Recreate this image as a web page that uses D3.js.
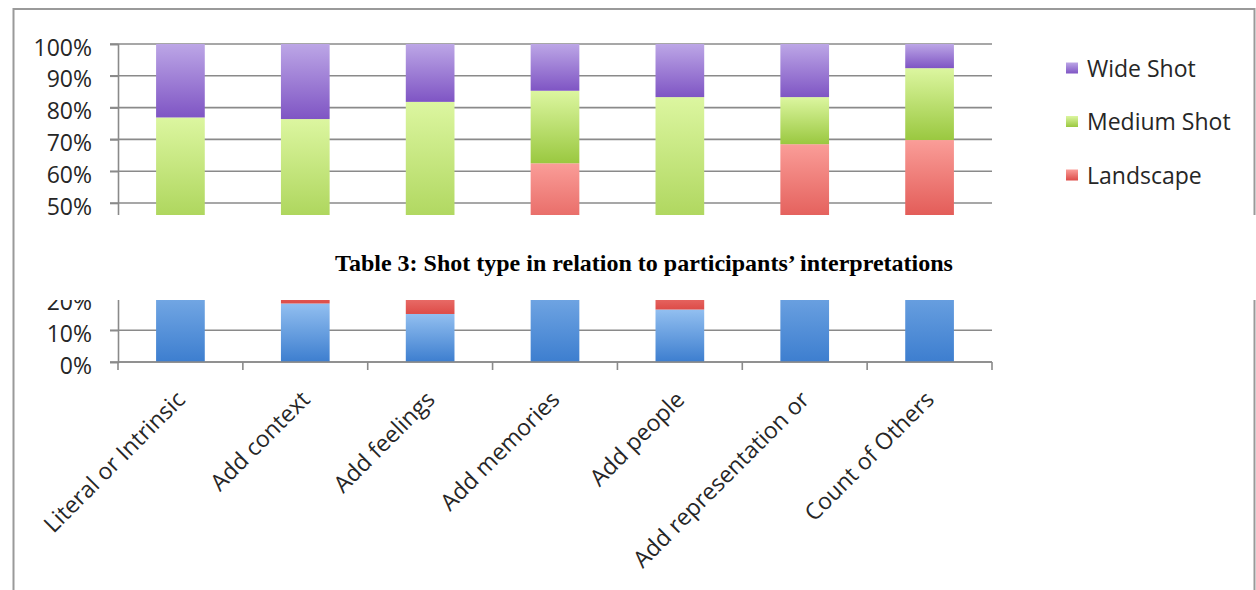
<!DOCTYPE html>
<html>
<head>
<meta charset="utf-8">
<script src="https://cdn.jsdelivr.net/npm/d3@7/dist/d3.min.js"></script>
<style>
  body { margin: 0; background: #ffffff; }
  svg { display: block; }
</style>
</head>
<body>
<svg id="chart" width="1256" height="590"></svg>
<script>
// Interpretation categories along the x axis
const categories = [
  "Literal or Intrinsic",
  "Add context",
  "Add feelings",
  "Add memories",
  "Add people",
  "Add representation or",
  "Count of Others"
];

// Share of each shot type per category (percent, stacked bottom to top)
const closeUp    = [32.0, 18.4, 15.1, 34.0, 16.5, 38.0, 40.0];
const landscape  = [ 0.0, 14.0, 12.0, 28.5, 11.0, 30.5, 29.8];
const mediumShot = [44.9, 44.0, 54.7, 22.8, 55.8, 14.8, 22.6];
const wideShot   = [23.1, 23.6, 18.2, 14.7, 16.7, 16.7,  7.6];

const seriesKeys   = ["Close Up", "Landscape", "Medium Shot", "Wide Shot"];
const legendKeys   = ["Wide Shot", "Medium Shot", "Landscape"];
const yTickValues  = [0, 10, 20, 30, 40, 50, 60, 70, 80, 90, 100];
const captionText  = "Table 3: Shot type in relation to participants\u2019 interpretations";

// Gradient stops (top, bottom) for each series
const seriesColors = {
  "Wide Shot":   ["#bca6e6", "#7f55c4"],
  "Medium Shot": ["#dcf6a0", "#9ac840"],
  "Landscape":   ["#fa9d98", "#dd4c48"],
  "Close Up":    ["#92bff0", "#3d7ecf"]
};

const rows = categories.map((c, i) => ({
  category: c,
  "Close Up": closeUp[i],
  "Landscape": landscape[i],
  "Medium Shot": mediumShot[i],
  "Wide Shot": wideShot[i]
}));

const svg = d3.select("#chart");
const fontUI = "'Open Sans', 'DejaVu Sans', sans-serif";
const fontSize = 23;

const plot = { left: 118, right: 992, top: 44, bottom: 362 };

const x = d3.scaleBand()
  .domain(categories)
  .range([plot.left, plot.right])
  .paddingInner(0.61)
  .paddingOuter(0.305);

const y = d3.scaleLinear()
  .domain([0, 100])
  .range([plot.bottom, plot.top]);

// Gradients
const defs = svg.append("defs");
seriesKeys.forEach((k, i) => {
  const g = defs.append("linearGradient")
    .attr("id", "grad" + i)
    .attr("x1", 0).attr("y1", 0).attr("x2", 0).attr("y2", 1);
  g.append("stop").attr("offset", "0%").attr("stop-color", seriesColors[k][0]);
  g.append("stop").attr("offset", "100%").attr("stop-color", seriesColors[k][1]);
});
const fillFor = k => "url(#grad" + seriesKeys.indexOf(k) + ")";

// Outer frame
svg.append("path")
  .attr("d", "M13.5,590 V9 H1254.5 V590")
  .attr("fill", "none")
  .attr("stroke", "#9a9a9a")
  .attr("stroke-width", 2);

// Gridlines
svg.append("g")
  .selectAll("line")
  .data(yTickValues)
  .join("line")
  .attr("x1", plot.left - 8)
  .attr("x2", plot.right)
  .attr("y1", d => y(d))
  .attr("y2", d => y(d))
  .attr("stroke", "#8a8a8a")
  .attr("stroke-width", 1.6);

// Stacked bars
const stacked = d3.stack().keys(seriesKeys)(rows);
svg.append("g")
  .selectAll("g")
  .data(stacked)
  .join("g")
  .attr("fill", s => fillFor(s.key))
  .selectAll("rect")
  .data(s => s)
  .join("rect")
  .attr("x", d => x(d.data.category))
  .attr("width", x.bandwidth())
  .attr("y", d => y(d[1]))
  .attr("height", d => Math.max(0, y(d[0]) - y(d[1])));

// Y axis
const yAxis = svg.append("g")
  .attr("transform", `translate(${plot.left},0)`)
  .call(d3.axisLeft(y)
    .tickValues(yTickValues)
    .tickFormat(d => d + "%")
    .tickSize(8)
    .tickPadding(18));
yAxis.select(".domain").attr("stroke", "#8a8a8a").attr("stroke-width", 1.6);
yAxis.selectAll(".tick line").attr("stroke", "#8a8a8a").attr("stroke-width", 1.6);
yAxis.selectAll(".tick text")
  .attr("font-family", fontUI)
  .attr("font-size", fontSize)
  .attr("fill", "#262626")
  .attr("dy", "0.48em");

// X axis baseline with boundary ticks
const step = x.step();
const xStart = plot.left;
svg.append("line")
  .attr("x1", plot.left).attr("x2", plot.right)
  .attr("y1", y(0)).attr("y2", y(0))
  .attr("stroke", "#8a8a8a").attr("stroke-width", 1.6);
svg.append("g")
  .selectAll("line")
  .data(d3.range(categories.length + 1))
  .join("line")
  .attr("x1", i => xStart + i * step)
  .attr("x2", i => xStart + i * step)
  .attr("y1", y(0))
  .attr("y2", y(0) + 8)
  .attr("stroke", "#8a8a8a")
  .attr("stroke-width", 1.6);

// Rotated category labels
svg.append("g")
  .selectAll("text")
  .data(categories)
  .join("text")
  .attr("transform", c => `translate(${x(c) + x.bandwidth() / 2 + 6},401) rotate(-45)`)
  .attr("text-anchor", "end")
  .attr("font-family", fontUI)
  .attr("font-size", fontSize)
  .attr("fill", "#262626")
  .text(c => c);

// Legend
const legend = svg.append("g");
legendKeys.forEach((k, i) => {
  const baseY = 76.5 + i * 53.5;
  legend.append("rect")
    .attr("x", 1066).attr("y", baseY - 14)
    .attr("width", 12).attr("height", 11)
    .attr("fill", fillFor(k));
  legend.append("text")
    .attr("x", 1087).attr("y", baseY)
    .attr("font-family", fontUI)
    .attr("font-size", fontSize)
    .attr("fill", "#262626")
    .text(k);
});

// Caption block laid over the middle of the chart
svg.append("rect")
  .attr("x", 15).attr("y", 215)
  .attr("width", 1256 - 15).attr("height", 85)
  .attr("fill", "#ffffff");
svg.append("text")
  .attr("x", 644).attr("y", 271)
  .attr("text-anchor", "middle")
  .attr("font-family", "'Liberation Serif', 'Times New Roman', serif")
  .attr("font-weight", "bold")
  .attr("font-size", 24)
  .attr("fill", "#000000")
  .text(captionText);
</script>
</body>
</html>
